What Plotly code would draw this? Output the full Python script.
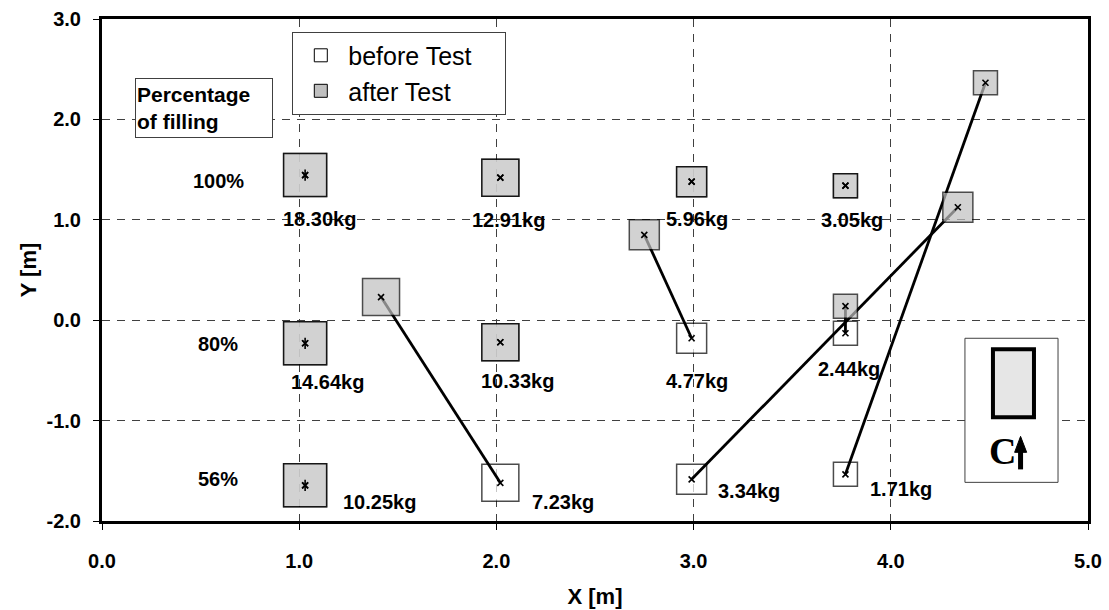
import plotly.graph_objects as go

# ---------------- data ----------------
masses = ["18.30kg", "12.91kg", "5.96kg", "3.05kg",
          "14.64kg", "10.33kg", "4.77kg", "2.44kg",
          "10.25kg", "7.23kg", "3.34kg", "1.71kg"]
before_x = [1.03, 2.02, 2.99, 3.77, 1.03, 2.02, 2.99, 3.77, 1.03, 2.02, 2.99, 3.77]
before_y = [1.445, 1.42, 1.38, 1.34, -0.23, -0.22, -0.18, -0.13, -1.645, -1.62, -1.585, -1.535]
after_x = [1.03, 2.02, 2.99, 3.77, 1.03, 2.02, 2.75, 3.77, 1.03, 1.415, 4.34, 4.48]
after_y = [1.445, 1.42, 1.38, 1.34, -0.23, -0.22, 0.85, 0.14, -1.645, 0.23, 1.125, 2.365]
star_idx = [0, 4, 8]
fill_levels = ["100%", "80%", "56%"]
level_y = [1.39, -0.24, -1.585]
level_x = 0.59
x_ticks = [0, 1, 2, 3, 4, 5]
x_tick_labels = ["0.0", "1.0", "2.0", "3.0", "4.0", "5.0"]
y_ticks = [-2, -1, 0, 1, 2, 3]
y_tick_labels = ["-2.0", "-1.0", "0.0", "1.0", "2.0", "3.0"]
series_names = ["before Test", "after Test"]

# ---------------- styles ----------------
square_px = [43, 37, 30, 24] * 3
label_dx = [14, 8, 5, 7, 22, 17, 5, 4, 74, 63, 57, 56]
label_dy = [44, 42, 37, 34, 39, 39, 43, 36, 17, 19, 12, 15]
FONT = "Liberation Sans, Arial, sans-serif"
GRAY = "#c0c0c0"
PAD = "\u00a0" * 4

fig = go.Figure()

# legend-only entries
fig.add_trace(go.Scatter(x=[None], y=[None], mode="markers", name=series_names[0] + PAD,
                         marker=dict(symbol="square", size=13, color="white",
                                     line=dict(color="black", width=1))))
fig.add_trace(go.Scatter(x=[None], y=[None], mode="markers", name=series_names[1] + PAD,
                         marker=dict(symbol="square", size=13, color=GRAY,
                                     line=dict(color="black", width=1))))

# before (white squares)
fig.add_trace(go.Scatter(x=before_x, y=before_y, mode="markers", showlegend=False,
                         marker=dict(symbol="square", size=square_px, color="white",
                                     line=dict(color="black", width=1.5)),
                         hoverinfo="skip"))

# displacement lines
lx, ly = [], []
for bx, by, ax_, ay_ in zip(before_x, before_y, after_x, after_y):
    if (bx, by) != (ax_, ay_):
        lx += [bx, ax_, None]
        ly += [by, ay_, None]
fig.add_trace(go.Scatter(x=lx, y=ly, mode="lines", showlegend=False,
                         line=dict(color="black", width=2.8), hoverinfo="skip"))

# after (gray squares)
fig.add_trace(go.Scatter(x=after_x, y=after_y, mode="markers", showlegend=False,
                         marker=dict(symbol="square", size=square_px, color=GRAY,
                                     line=dict(color="black", width=1.5)),
                         hoverinfo="skip"))

# centre crosses
fig.add_trace(go.Scatter(x=before_x + after_x, y=before_y + after_y, mode="markers",
                         showlegend=False,
                         marker=dict(symbol="x-thin", size=6,
                                     line=dict(color="black", width=1.6)),
                         hoverinfo="skip"))
# star-like markers (vertical bar) for the column at x≈1
fig.add_trace(go.Scatter(x=[before_x[i] for i in star_idx], y=[before_y[i] for i in star_idx],
                         mode="markers", showlegend=False,
                         marker=dict(symbol="line-ns", size=8,
                                     line=dict(color="black", width=1.6)),
                         hoverinfo="skip"))

annotations = []
for m, bx, by, dx, dy in zip(masses, before_x, before_y, label_dx, label_dy):
    annotations.append(dict(x=bx, y=by, xref="x", yref="y", text="<b>%s</b>" % m,
                            showarrow=False, xshift=dx, yshift=-dy,
                            font=dict(family=FONT, size=20, color="black")))
for lab, yy in zip(fill_levels, level_y):
    annotations.append(dict(x=level_x, y=yy, xref="x", yref="y", text="<b>%s</b>" % lab,
                            showarrow=False, font=dict(family=FONT, size=20, color="black")))
annotations.append(dict(x=0.517, y=2.11, xref="x", yref="y",
                        text="<b>Percentage<br>of filling</b>", align="left",
                        showarrow=False, bordercolor="#404040", borderwidth=1,
                        bgcolor="white", width=134, height=56,
                        font=dict(family=FONT, size=21, color="black")))
annotations.append(dict(x=4.565, y=-1.30, xref="x", yref="y", text="<b>C</b>",
                        showarrow=False,
                        font=dict(family="Liberation Serif, Times New Roman, serif",
                                  size=38, color="black")))

shapes = [
    dict(type="rect", xref="x", yref="y", x0=4.376, x1=4.848, y0=-1.615, y1=-0.18,
         line=dict(color="#404040", width=1), fillcolor="white", layer="above"),
    dict(type="rect", xref="x", yref="y", x0=4.518, x1=4.726, y0=-0.967, y1=-0.289,
         line=dict(color="black", width=4), fillcolor="#e6e6e6", layer="above"),
    dict(type="line", xref="x", yref="y", x0=4.658, x1=4.658, y0=-1.486, y1=-1.30,
         line=dict(color="black", width=5), layer="above"),
    dict(type="path", xref="x", yref="y",
         path="M 4.628 -1.316 L 4.689 -1.316 L 4.658 -1.157 Z",
         line=dict(color="black", width=1), fillcolor="black", layer="above"),
]

axis_common = dict(showline=True, mirror=True, linecolor="black", linewidth=3,
                   showgrid=True, gridcolor="#404040", gridwidth=1.2, griddash="8px,7px",
                   zeroline=False, ticks="outside", ticklen=6, tickwidth=1,
                   tickcolor="black", tickmode="array", automargin=False,
                   tickfont=dict(family=FONT, size=20, color="black", weight="bold"))

fig.update_layout(
    width=1109, height=610,
    margin=dict(l=102, r=21, t=19, b=89, autoexpand=False),
    paper_bgcolor="white", plot_bgcolor="white",
    font=dict(family=FONT, color="black"),
    xaxis=dict(range=[0, 5], tickvals=x_ticks, ticktext=x_tick_labels, ticklabelstandoff=14,
               title=dict(text="<b>X [m]</b>", font=dict(family=FONT, size=22), standoff=18),
               **axis_common),
    yaxis=dict(range=[-2, 3], tickvals=y_ticks, ticktext=y_tick_labels, ticklabelstandoff=8,
               title=dict(text="<b>Y [m]</b>", font=dict(family=FONT, size=22), standoff=4),
               **axis_common),
    legend=dict(x=0.193, y=0.975, xanchor="left", yanchor="top",
                bgcolor="white", bordercolor="#404040", borderwidth=1,
                font=dict(family=FONT, size=25, color="black"),
                itemwidth=45, tracegroupgap=0),
    annotations=annotations,
    shapes=shapes,
)

fig.write_html("out.html")
